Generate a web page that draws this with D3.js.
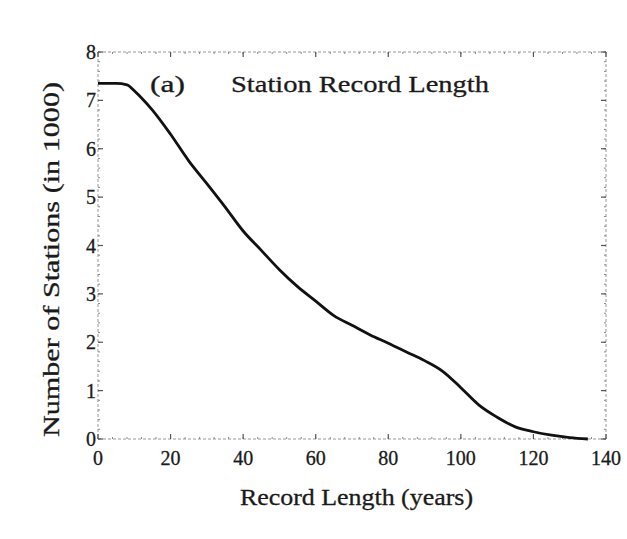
<!DOCTYPE html>
<html>
<head>
<meta charset="utf-8">
<script src="https://cdn.jsdelivr.net/npm/d3@7"></script>
<style>
body { margin: 0; background: #fff; }
svg text { font-family: "Liberation Serif", "DejaVu Serif", serif; fill: #1a1a1a; stroke: #1a1a1a; stroke-width: 0.3px; }
</style>
</head>
<body>
<svg id="chart" width="627" height="539"></svg>
<script>
const years = [0, 5, 8, 10, 12, 15, 20, 25, 30, 35, 40, 45, 50, 55, 60, 65, 70, 75, 80, 85, 90, 95, 100, 105, 110, 115, 120, 125, 130, 135];
const stations = [7.35, 7.35, 7.32, 7.2, 7.05, 6.8, 6.3, 5.75, 5.28, 4.8, 4.3, 3.9, 3.5, 3.15, 2.85, 2.55, 2.35, 2.15, 1.98, 1.8, 1.62, 1.4, 1.06, 0.7, 0.45, 0.25, 0.15, 0.08, 0.03, 0.0];
const xTicks = [0, 20, 40, 60, 80, 100, 120, 140];
const yTicks = [0, 1, 2, 3, 4, 5, 6, 7, 8];
const titleLabel = "(a)";
const titleText = "Station Record Length";
const xLabel = "Record Length (years)";
const yLabel = "Number of Stations (in 1000)";

const svg = d3.select("#chart");
const m = {left: 98, right: 606, top: 52, bottom: 439};
const x = d3.scaleLinear().domain([0, 140]).range([m.left, m.right]);
const y = d3.scaleLinear().domain([0, 8]).range([m.bottom, m.top]);

// frame
svg.append("rect").attr("x", m.left).attr("y", m.top)
  .attr("width", m.right - m.left).attr("height", m.bottom - m.top)
  .attr("fill", "none").attr("stroke", "#999").attr("stroke-width", 1)
  .attr("stroke-dasharray", "3,2");

// minor ticks
const xMinor = d3.range(0, 141, 4);
const yMinor = d3.range(0, 8.01, 0.2);
const tickG = svg.append("g").attr("stroke", "#888").attr("stroke-width", 1);
xMinor.forEach(v => {
  tickG.append("line").attr("x1", x(v)).attr("x2", x(v)).attr("y1", m.bottom).attr("y2", m.bottom - 2);
  tickG.append("line").attr("x1", x(v)).attr("x2", x(v)).attr("y1", m.top).attr("y2", m.top + 2);
});
yMinor.forEach(v => {
  tickG.append("line").attr("x1", m.left).attr("x2", m.left + 2).attr("y1", y(v)).attr("y2", y(v));
  tickG.append("line").attr("x1", m.right).attr("x2", m.right - 2).attr("y1", y(v)).attr("y2", y(v));
});
// major ticks
const majG = svg.append("g").attr("stroke", "#555").attr("stroke-width", 1.2);
xTicks.forEach(v => {
  majG.append("line").attr("x1", x(v)).attr("x2", x(v)).attr("y1", m.bottom).attr("y2", m.bottom - 5);
  majG.append("line").attr("x1", x(v)).attr("x2", x(v)).attr("y1", m.top).attr("y2", m.top + 5);
});
yTicks.forEach(v => {
  majG.append("line").attr("x1", m.left).attr("x2", m.left + 5).attr("y1", y(v)).attr("y2", y(v));
  majG.append("line").attr("x1", m.right).attr("x2", m.right - 5).attr("y1", y(v)).attr("y2", y(v));
});

// tick labels
svg.append("g").selectAll("text").data(xTicks).join("text")
  .attr("x", d => x(d)).attr("y", 465).attr("text-anchor", "middle")
  .attr("font-size", 20).text(d => d);
svg.append("g").selectAll("text").data(yTicks).join("text")
  .attr("x", 96).attr("y", d => y(d)).attr("dy", "0.35em").attr("text-anchor", "end")
  .attr("font-size", 20).text(d => d);

// line
const line = d3.line().x((d, i) => x(years[i])).y(d => y(d)).curve(d3.curveMonotoneX);
svg.append("path").datum(stations).attr("d", line)
  .attr("fill", "none").attr("stroke", "#111").attr("stroke-width", 2.8)
  .attr("stroke-linejoin", "round");

// title
svg.append("text").attr("x", 150).attr("y", 92).attr("font-size", 24)
  .attr("textLength", 35).attr("lengthAdjust", "spacingAndGlyphs").text(titleLabel);
svg.append("text").attr("x", 231).attr("y", 92).attr("font-size", 24)
  .attr("textLength", 258).attr("lengthAdjust", "spacingAndGlyphs").text(titleText);

// axis labels
svg.append("text").attr("x", 240).attr("y", 505)
  .attr("font-size", 24).attr("textLength", 233).attr("lengthAdjust", "spacingAndGlyphs").text(xLabel);
svg.append("text").attr("transform", "translate(59,437) rotate(-90)")
  .attr("font-size", 24).attr("textLength", 355).attr("lengthAdjust", "spacingAndGlyphs").text(yLabel);
</script>
</body>
</html>
